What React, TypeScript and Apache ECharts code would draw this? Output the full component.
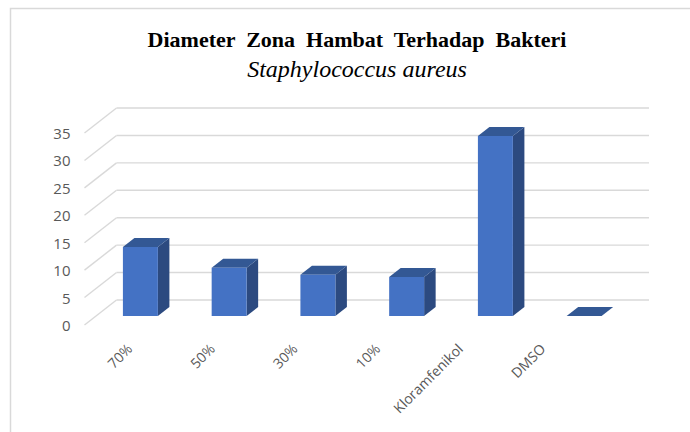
import React, { useEffect, useRef } from "react";
import * as echarts from "echarts";

const categories: string[] = ["70%", "50%", "30%", "10%", "Kloramfenikol", "DMSO"];
const values: number[] = [12.6, 8.8, 7.5, 7.1, 32.8, 0];
const yTicks: number[] = [0, 5, 10, 15, 20, 25, 30, 35];
const titleLine1 = "Diameter  Zona  Hambat  Terhadap  Bakteri";
const titleLine2 = "Staphylococcus aureus";

const DEPTH_X = 32;
const DEPTH_Y = -25;
const BAR_FRONT = 0.36;
const BAR_BACK = 0.72;

export default function App() {
  const ref = useRef<HTMLDivElement>(null);
  useEffect(() => {
    document.body.style.margin = "0";
    const chart = echarts.init(ref.current!, null, { renderer: "svg" });
    const option: any = {
      animation: false,
      backgroundColor: "#ffffff",
      grid: [
        { left: 84.5, right: 73, top: 133, bottom: 107 },
        { left: 88, right: 106, top: 133, bottom: 107 },
      ],
      xAxis: [
        {
          type: "category",
          gridIndex: 0,
          data: categories,
          axisLine: { show: false },
          axisTick: { show: false },
          axisLabel: { show: false },
          splitLine: { show: false },
        },
        {
          type: "category",
          gridIndex: 1,
          data: categories,
          axisLine: { show: false },
          axisTick: { show: false },
          axisLabel: {
            rotate: 45,
            margin: 21,
            fontSize: 14,
            fontFamily: "Open Sans",
            color: "#595959",
          },
          splitLine: { show: false },
        },
      ],
      yAxis: [
        {
          type: "value",
          gridIndex: 0,
          min: 0,
          max: 35,
          interval: 5,
          axisLine: { show: false },
          axisTick: { show: false },
          splitLine: { show: false },
          axisLabel: {
            margin: 14,
            fontSize: 15,
            fontFamily: "Open Sans",
            color: "#595959",
          },
        },
        {
          type: "value",
          gridIndex: 1,
          min: 0,
          max: 35,
          show: false,
        },
      ],
      graphic: [
        {
          type: "rect",
          shape: { x: 10.5, y: 8.5, width: 720, height: 460 },
          style: { fill: "none", stroke: "#d9d9d9", lineWidth: 1.5 },
          silent: true,
        },
        {
          type: "text",
          x: 357,
          y: 39,
          style: {
            text: titleLine1,
            font: "bold 22px 'Liberation Serif', 'Times New Roman', serif",
            fill: "#000000",
            textAlign: "center",
            textVerticalAlign: "middle",
          },
        },
        {
          type: "text",
          x: 357,
          y: 69,
          style: {
            text: titleLine2,
            font: "italic 24px 'Liberation Serif', 'Times New Roman', serif",
            fill: "#000000",
            textAlign: "center",
            textVerticalAlign: "middle",
          },
        },
      ],
      series: [
        {
          type: "custom",
          xAxisIndex: 0,
          yAxisIndex: 0,
          silent: true,
          z: 1,
          data: yTicks.map((t) => [0, t]),
          renderItem: (params: any, api: any) => {
            const cs = params.coordSys;
            const y = api.coord([0, api.value(1)])[1];
            const left = cs.x;
            const right = cs.x + cs.width;
            const style = { stroke: "#d9d9d9", lineWidth: 1.4, fill: "none" };
            return {
              type: "group",
              children: [
                {
                  type: "line",
                  shape: { x1: left, y1: y, x2: left + DEPTH_X, y2: y + DEPTH_Y },
                  style,
                },
                {
                  type: "line",
                  shape: {
                    x1: left + DEPTH_X,
                    y1: y + DEPTH_Y,
                    x2: right + DEPTH_X,
                    y2: y + DEPTH_Y,
                  },
                  style,
                },
              ],
            };
          },
        },
        {
          type: "custom",
          xAxisIndex: 0,
          yAxisIndex: 0,
          silent: true,
          z: 2,
          data: values.map((v, i) => [i, v]),
          renderItem: (params: any, api: any) => {
            const idx = api.value(0);
            const top = api.coord([idx, api.value(1)]);
            const base = api.coord([idx, 0]);
            const bw = api.size([1, 0])[0] * 0.394;
            const fx = BAR_FRONT * DEPTH_X;
            const fy = BAR_FRONT * DEPTH_Y;
            const dx = (BAR_BACK - BAR_FRONT) * DEPTH_X;
            const dy = (BAR_BACK - BAR_FRONT) * DEPTH_Y;
            const x0 = top[0] - bw / 2 + fx;
            const x1 = x0 + bw;
            const yt = top[1] + fy;
            const yb = base[1] + fy;
            return {
              type: "group",
              children: [
                {
                  type: "polygon",
                  shape: {
                    points: [
                      [x1, yt],
                      [x1 + dx, yt + dy],
                      [x1 + dx, yb + dy],
                      [x1, yb],
                    ],
                  },
                  style: { fill: "#2c4a80" },
                },
                {
                  type: "polygon",
                  shape: {
                    points: [
                      [x0, yt],
                      [x1, yt],
                      [x1 + dx, yt + dy],
                      [x0 + dx, yt + dy],
                    ],
                  },
                  style: { fill: "#335894" },
                },
                {
                  type: "rect",
                  shape: { x: x0, y: yt, width: bw, height: yb - yt },
                  style: { fill: "#4472c4" },
                },
              ],
            };
          },
        },
      ],
    };
    chart.setOption(option);
    return () => chart.dispose();
  }, []);
  return (
    <div
      ref={ref}
      style={{ position: "absolute", left: 0, top: 0, width: 690, height: 432 }}
    />
  );
}
